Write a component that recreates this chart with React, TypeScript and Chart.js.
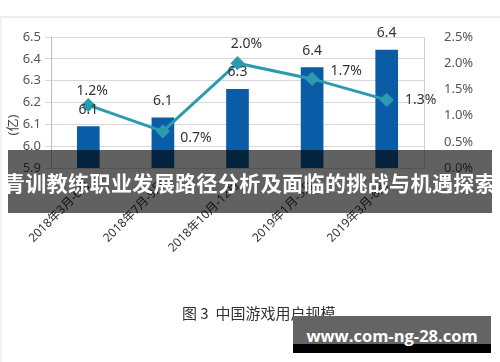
import React, { useEffect, useRef } from "react";
import { Chart, registerables } from "chart.js";

Chart.register(...registerables);

const categories = ["2018年3月-6月", "2018年7月-9月", "2018年10月-12月", "2019年1月-3月", "2019年3月-6月"];
const userScale = [6.09, 6.13, 6.26, 6.36, 6.44];
const growthRate = [1.2, 0.7, 2.0, 1.7, 1.3];
const leftAxis = { min: 5.9, max: 6.5, step: 0.1 };
const rightAxis = { min: 0, max: 2.5, step: 0.5 };
const unitLabel = "(亿)";
const titleText = "青训教练职业发展路径分析及面临的挑战与机遇探索";
const captionText = "图 3  中国游戏用户规模";
const siteText = "www.com-ng-28.com";

// label offsets for the growth-rate labels (layout only)
const growthLabelOffsets: [number, number][] = [[4, -14], [33, 7], [9, -19], [34, -8], [34, 0]];

const FONT = "'Noto Sans', 'Noto Sans CJK SC', sans-serif";

const labelPlugin = {
  id: "valueLabels",
  afterDatasetsDraw(chart: any) {
    const ctx = chart.ctx;
    ctx.save();
    ctx.font = `14px ${FONT}`;
    ctx.fillStyle = "#333";
    ctx.textAlign = "center";
    ctx.textBaseline = "middle";
    const lineMeta = chart.getDatasetMeta(1);
    lineMeta.data.forEach((el: any, i: number) => {
      const [dx, dy] = growthLabelOffsets[i];
      ctx.fillText(growthRate[i].toFixed(1) + "%", el.x + dx, el.y + dy);
    });
    const barMeta = chart.getDatasetMeta(0);
    barMeta.data.forEach((el: any, i: number) => {
      ctx.fillText(userScale[i].toFixed(1), el.x, el.y - 17);
    });
    ctx.font = `13px ${FONT}`;
    ctx.fillStyle = "#444";
    ctx.translate(13, 125);
    ctx.rotate(-Math.PI / 2);
    ctx.fillText(unitLabel, 0, 0);
    ctx.restore();
  },
};

function ChartView() {
  const ref = useRef<HTMLCanvasElement | null>(null);
  useEffect(() => {
    if (!ref.current) return;
    const chart = new Chart(ref.current, {
      type: "bar",
      data: {
        labels: categories,
        datasets: [
          {
            type: "bar",
            data: userScale,
            backgroundColor: "#0b5ca6",
            yAxisID: "y",
            barThickness: 22,
            order: 2,
          } as any,
          {
            type: "line",
            data: growthRate,
            borderColor: "#2b9bb0",
            backgroundColor: "#2b9bb0",
            borderWidth: 3,
            pointStyle: "rectRot",
            pointRadius: 5,
            yAxisID: "y1",
            order: 1,
          } as any,
        ],
      },
      options: {
        animation: false,
        responsive: false,
        devicePixelRatio: 1,
        layout: { padding: { top: 37, left: 0, right: 0, bottom: 0 } },
        plugins: { legend: { display: false }, tooltip: { enabled: false } },
        scales: {
          x: {
            grid: { display: false },
            border: { display: false },
            ticks: {
              maxRotation: 45,
              minRotation: 45,
              autoSkip: false,
              padding: 2,
              color: "#333",
              font: { size: 12, family: FONT },
            },
            afterFit: (s: any) => { s.height = 194; },
          },
          y: {
            position: "left",
            min: leftAxis.min,
            max: leftAxis.max,
            grid: { color: "#d9d9d9", tickLength: 6, lineWidth: 1 },
            border: { color: "#bdbdbd" },
            ticks: {
              stepSize: leftAxis.step,
              padding: 4,
              color: "#555",
              font: { size: 13, family: FONT },
              callback: (v: any) => Number(v).toFixed(1),
            },
            afterFit: (s: any) => { s.width = 51; },
          },
          y1: {
            position: "right",
            min: rightAxis.min,
            max: rightAxis.max,
            grid: { display: false },
            border: { display: true, color: "#d0d0d0" },
            ticks: {
              stepSize: rightAxis.step,
              padding: 12,
              color: "#555",
              font: { size: 13, family: FONT },
              callback: (v: any) => Number(v).toFixed(1) + "%",
            },
            afterFit: (s: any) => { s.width = 76; },
          },
        },
      },
      plugins: [labelPlugin],
    });
    return () => chart.destroy();
  }, []);
  return <canvas ref={ref} width={500} height={362} style={{ display: "block", position: "absolute", left: 0, top: 0 }} />;
}

export default function App() {
  return (
    <div style={{ position: "fixed", left: 0, top: 0, width: 500, height: 362, background: "#fff", overflow: "hidden", fontFamily: FONT }}>
      <div style={{ position: "absolute", left: 0, top: 16, width: 500, height: 2, background: "#e8edf5" }} />
      <div style={{ position: "absolute", left: 0, top: 18, width: 2, height: 344, background: "#f1f3f6" }} />
      <ChartView />
      <div
        style={{
          position: "absolute", left: 8, top: 150, width: 484, height: 63,
          background: "rgba(0,0,0,0.62)", color: "#fff", display: "flex",
          alignItems: "center", justifyContent: "center", whiteSpace: "nowrap",
          fontFamily: "'Noto Sans CJK SC', sans-serif", fontWeight: 700, fontSize: 21,
          letterSpacing: 0.4,
        }}
      >
        {titleText}
      </div>
      <div
        style={{
          position: "absolute", left: 182, top: 302, height: 22, lineHeight: "22px",
          fontSize: 15, color: "#333", fontFamily: "'Noto Sans CJK SC', sans-serif", whiteSpace: "pre",
        }}
      >
        {captionText}
      </div>
      <div style={{ position: "absolute", left: 293, top: 316, width: 198, height: 28, background: "#646464" }} />
      <div style={{ position: "absolute", left: 293, top: 344, width: 198, height: 9, background: "#000" }} />
      <div
        style={{
          position: "absolute", left: 293, top: 316, width: 198, height: 40, lineHeight: "40px",
          textAlign: "center", color: "#fff", fontWeight: 700, fontSize: 16.5,
          fontFamily: "'Open Sans', sans-serif", whiteSpace: "nowrap",
        }}
      >
        {siteText}
      </div>
    </div>
  );
}
